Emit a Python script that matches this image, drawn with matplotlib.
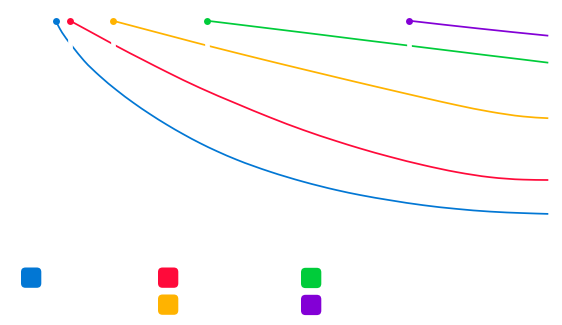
import matplotlib
matplotlib.use("Agg")
import numpy as np
import matplotlib.pyplot as plt
from matplotlib.patches import FancyBboxPatch, PathPatch
from matplotlib.path import Path
from matplotlib.transforms import IdentityTransform

# ---- data (x: 0-100 time scale, y: percent remaining) ----
series_names = ["A", "B", "C", "D", "E"]
colors = ["#0277D4", "#FF0A3A", "#FFB300", "#00CC3A", "#8300D6"]

blue_x = [0, 0.87, 2.56, 3.37, 5.75, 8.99, 12.38, 15.75, 19.14, 22.53, 25.9, 29.29,
          32.68, 36.74, 43.5, 50.26, 57.04, 61.77, 67.86, 74.62, 81.4, 88.17, 94.93, 100]
blue_y = [100, 96.05, 90.19, 87.81, 80.95, 73.57, 66.9, 60.95, 55.52, 50.52, 45.95, 41.71,
          37.9, 33.81, 28.1, 23.33, 19.33, 17.0, 14.52, 12.14, 10.38, 9.1, 8.38, 8.0]

red_x = [2.9, 11.02, 12.24, 17.78, 22.53, 29.29, 36.74, 43.5, 50.26, 57.04, 61.77,
         67.86, 74.62, 81.4, 88.17, 94.93, 100]
red_y = [100, 89.62, 88.05, 81.29, 75.62, 68.0, 60.48, 53.95, 47.95, 42.62, 39.19,
         35.19, 31.24, 27.9, 25.48, 24.33, 24.14]

yellow_x = [11.57, 25.27, 29.9, 31.12, 42.14, 47.56, 54.32, 61.1, 67.86, 74.62, 81.4,
            88.17, 94.93, 100]
yellow_y = [100, 91.52, 88.67, 87.95, 81.48, 78.38, 74.57, 70.76, 67.05, 63.38, 59.81,
            56.67, 54.38, 53.57]

green_x = [30.65, 47.56, 54.32, 61.1, 67.86, 74.62, 81.4, 88.17, 94.93, 100]
green_y = [100, 95.14, 93.19, 91.19, 89.24, 87.29, 85.33, 83.38, 81.48, 80.0]

purple_x = [71.72, 85.47, 100]
purple_y = [100, 96.38, 92.86]

xs = [blue_x, red_x, yellow_x, green_x, purple_x]
ys = [blue_y, red_y, yellow_y, green_y, purple_y]


def monotone_path(x, y):
    """Monotone-X cubic curve through the points (like d3.curveMonotoneX)."""
    x = np.asarray(x, float)
    y = np.asarray(y, float)
    n = len(x)
    if n < 3:
        return Path(np.column_stack([x, y]))
    h = np.diff(x)
    s = np.diff(y) / h
    t = np.zeros(n)
    for i in range(1, n - 1):
        s0, s1 = s[i - 1], s[i]
        p = (s0 * h[i] + s1 * h[i - 1]) / (h[i - 1] + h[i])
        t[i] = (np.sign(s0) + np.sign(s1)) * min(abs(s0), abs(s1), 0.5 * abs(p))
    t[0] = (3 * s[0] - t[1]) / 2
    t[-1] = (3 * s[-1] - t[-2]) / 2
    verts = [(x[0], y[0])]
    codes = [Path.MOVETO]
    for i in range(n - 1):
        dx = h[i] / 3
        verts += [(x[i] + dx, y[i] + dx * t[i]),
                  (x[i + 1] - dx, y[i + 1] - dx * t[i + 1]),
                  (x[i + 1], y[i + 1])]
        codes += [Path.CURVE4] * 3
    return Path(verts, codes)


W, H = 562, 325
fig = plt.figure(figsize=(W / 100, H / 100), dpi=100)
fig.patch.set_facecolor("white")

# plot area in pixels
left_px, right_px, top_px, bottom_px = 55.7, 548.3, 20.7, 230.7
ax = fig.add_axes([left_px / W, 1 - bottom_px / H,
                   (right_px - left_px) / W, (bottom_px - top_px) / H])
ax.set_xlim(0, 100)
ax.set_ylim(0, 100)
ax.axis("off")

for i, (x, y, c) in enumerate(zip(xs, ys, colors)):
    # white separator below the start point cuts the previous series only
    ax.plot([x[0], x[0]], [100, 85], color="white", lw=3.4, zorder=1 + 2 * i,
            solid_capstyle="butt", clip_on=False)
    ax.add_patch(PathPatch(monotone_path(x, y), facecolor="none", edgecolor=c,
                           lw=1.25, zorder=2 + 2 * i, clip_on=False, capstyle="butt"))

for x, y, c in zip(xs, ys, colors):
    ax.plot([x[0]], [y[0]], "o", color=c, ms=5.0, mew=0, zorder=20, clip_on=False)

# legend swatches (no text), pixel layout (top-left corners)
legend_cols = [21, 158, 158, 301, 301]
legend_rows = [267.5, 267.5, 294.5, 267.8, 294.8]
size = 20.3
for c, lx, ly in zip(colors, legend_cols, legend_rows):
    p = FancyBboxPatch((lx, H - ly - size), size, size,
                       boxstyle="round,pad=0,rounding_size=4.5",
                       facecolor=c, edgecolor="none", transform=IdentityTransform())
    fig.patches.append(p)

fig.savefig("out.png", dpi=100, facecolor="white")
